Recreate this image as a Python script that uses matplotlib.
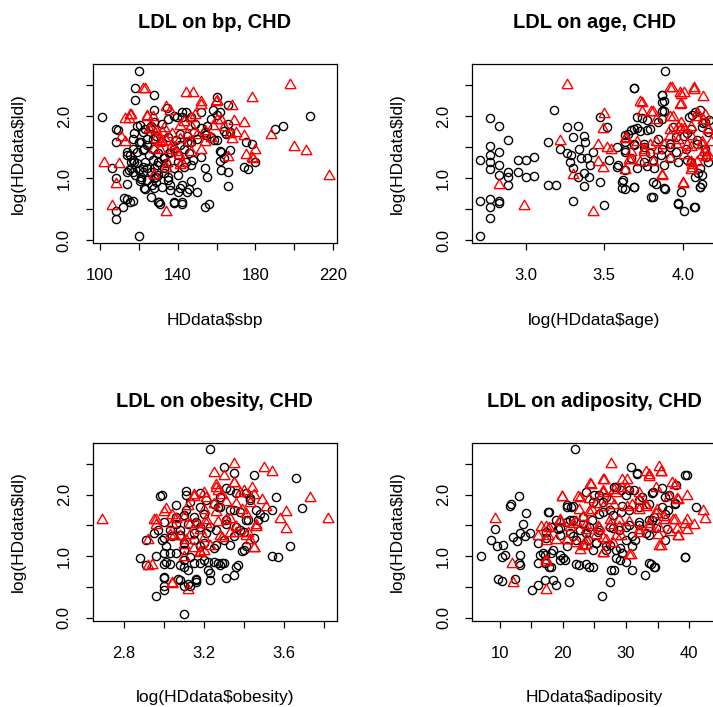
import matplotlib
matplotlib.use("Agg")
import matplotlib.pyplot as plt
from matplotlib.ticker import FixedLocator, FixedFormatter

plt.rcParams['font.family'] = ['Liberation Sans', 'DejaVu Sans']

# (x, log ldl) points, chd = 0 (circles) / chd = 1 (triangles)
bp_no = [(120, 2.73), (101, 1.99), (208, 2.0), (194, 1.85), (190, 1.80), (118, 2.45), (118, 2.27),
         (128, 2.35), (160, 2.32), (166, 2.18), (108, 1.80), (109, 1.78), (108, 1.59), (106, 1.16),
         (108, 1.0), (108, 0.47), (108, 0.35), (112, 0.54), (114, 0.66), (117, 0.63), (120, 0.07),
         (114, 0.91), (126, 0.70), (130, 0.62), (131, 0.59), (138, 0.62), (142, 0.58), (154, 0.54),
         (156, 0.59), (166, 0.88), (166, 1.10), (174, 1.18), (176, 1.15), (162, 1.44), (162, 1.28),
         (167, 1.45), (175, 1.59), (178, 1.56), (180, 1.27), (154, 1.16), (148, 1.29), (152, 1.34),
         (123, 0.83), (128, 0.84), (132, 0.86), (136, 0.81), (136, 0.89), (142, 0.89), (146, 0.83),
         (140, 0.78), (135, 1.02), (129, 1.02), (121, 1.02), (114, 1.10), (117, 1.10), (114, 1.42),
         (114, 1.37), (116, 1.26), (117, 1.29), (116, 1.16), (120, 1.13), (122, 1.10), (126, 1.10),
         (130, 1.05), (133, 1.08), (119, 1.85), (122, 1.75), (123, 1.80), (126, 1.85), (128, 1.91),
         (132, 1.88), (135, 1.96), (138, 2.01), (142, 1.99), (144, 2.07), (147, 1.99), (149, 1.88),
         (152, 2.07), (155, 1.85), (157, 1.96), (158, 2.10), (160, 2.02), (162, 2.07), (165, 1.72),
         (166, 1.88), (117, 1.64), (121, 1.59), (124, 1.53), (127, 1.64), (129, 1.69), (132, 1.59),
         (135, 1.67), (139, 1.61), (141, 1.72), (145, 1.69), (147, 1.59), (150, 1.64), (154, 1.75),
         (157, 1.67), (160, 1.61), (164, 1.77), (167, 1.75), (117, 1.48), (119, 1.42), (122, 1.45),
         (125, 1.37), (127, 1.47), (130, 1.40), (133, 1.34), (136, 1.42), (140, 1.37), (143, 1.48),
         (146, 1.40), (140, 1.26), (144, 1.26), (134, 1.24), (130, 1.26), (127, 1.29), (123, 1.26),
         (119, 1.24), (121, 0.99), (124, 0.97), (129, 0.94), (135, 0.97), (140, 1.05), (122, 1.18),
         (128, 1.16), (133, 1.16), (138, 1.17), (143, 1.18), (147, 1.21)]
bp_no_core = [(127.6, 2.10), (134.5, 2.13), (142.3, 2.07), (139.7, 1.99), (120.7, 1.86), (125.9, 1.81),
              (117.3, 1.73), (119.8, 1.59), (124.2, 1.64), (122.4, 1.48), (115.5, 1.37), (117.3, 1.27),
              (114.7, 1.13), (118.1, 1.05), (120.7, 0.95), (122.4, 0.84), (126.8, 0.89), (127.6, 1.00),
              (124.2, 1.16), (129.4, 1.21), (132.8, 1.32), (135.4, 1.40), (138.0, 1.48), (141.4, 1.54),
              (144.9, 1.59), (148.3, 1.75), (151.8, 1.81), (154.4, 1.70), (158.7, 1.62), (162.2, 1.43),
              (163.9, 1.32), (162.2, 1.13), (155.3, 1.02), (146.6, 0.95), (141.4, 0.84), (144.9, 0.78),
              (138.0, 0.60), (142.3, 0.62), (150.1, 0.78), (130.2, 0.62), (115.5, 0.62), (112.1, 0.68)]
bp_chd = [(198, 2.5), (178, 2.30), (188, 1.70), (200, 1.51), (206, 1.44), (218, 1.04), (102, 1.24),
          (110, 1.23), (108, 0.91), (106, 0.56), (134, 0.46), (122, 2.44), (123, 2.44), (144, 2.37),
          (148, 2.37), (152, 2.23), (160, 2.24), (168, 2.17), (174, 1.90), (169, 1.92), (113, 1.96),
          (116, 2.02), (115, 1.95), (111, 1.67), (113, 1.59), (124, 2.0), (127, 1.99), (134, 2.15),
          (136, 2.08), (129, 1.77), (132, 1.75), (134, 1.60), (125, 1.80), (131, 1.45), (132, 1.59),
          (128, 1.47), (137, 1.53), (128, 1.05), (134, 1.17), (142, 1.24), (139, 1.42), (146, 1.59),
          (147, 1.42), (152, 1.45), (154, 1.59), (154, 1.76), (158, 1.85), (160, 1.94), (164, 1.83),
          (167, 1.72), (170, 1.73), (174, 1.68), (168, 1.64), (175, 1.37), (178, 1.32), (180, 1.45),
          (179, 1.31), (166, 1.34), (143, 1.91), (147, 1.85), (149, 2.02), (145, 1.72), (141, 1.85),
          (129, 1.64), (137, 1.72), (141, 1.64)]
bp_chd_core = [(115.5, 2.02), (124.2, 1.99), (126.8, 1.81), (132.8, 1.81), (131.1, 1.59), (137.1, 1.46),
               (140.6, 1.38), (134.5, 1.24), (127.6, 1.05), (141.4, 1.21), (146.6, 1.97), (151.8, 2.18),
               (159.6, 2.23), (162.2, 1.94), (150.1, 1.70), (157.0, 1.65)]

age_no = [(3.89, 2.73), (2.71, 1.30), (2.77, 1.98), (2.83, 1.84), (2.89, 1.62), (2.71, 0.07), (2.71, 0.63),
          (2.77, 0.53), (2.77, 0.36), (2.83, 0.60), (2.83, 0.63), (2.77, 0.67), (2.77, 1.15), (2.77, 1.26),
          (2.77, 1.37), (2.77, 1.52), (2.83, 1.42), (2.83, 1.21), (2.83, 1.05), (2.89, 1.10), (2.89, 1.02),
          (2.89, 0.89), (2.95, 1.10), (2.95, 1.30), (3.0, 1.30), (3.05, 1.34), (3.0, 1.02), (3.05, 1.04),
          (3.14, 1.59), (3.18, 2.10), (3.14, 0.89), (3.19, 0.89), (3.26, 1.82), (3.33, 1.85), (3.30, 1.67),
          (3.37, 1.68), (3.22, 1.48), (3.26, 1.40), (3.29, 1.37), (3.34, 1.47), (3.38, 1.59), (3.28, 1.26),
          (3.30, 1.16), (3.35, 1.32), (3.39, 1.32), (3.41, 1.21), (3.37, 1.08), (3.33, 1.02), (3.40, 1.02),
          (3.43, 1.42), (3.47, 0.94), (3.30, 0.63), (3.37, 0.87), (3.50, 0.57), (3.53, 1.29), (3.47, 1.99),
          (3.52, 1.83), (3.69, 2.46), (3.87, 2.35), (3.87, 2.23), (3.87, 2.08), (3.87, 1.96), (3.81, 0.70),
          (3.83, 0.91), (3.89, 0.82), (3.97, 0.59), (4.01, 0.47), (4.08, 0.54), (3.99, 0.78), (4.12, 0.91),
          (4.11, 0.86), (4.12, 1.05), (4.11, 1.16), (3.58, 1.18), (3.61, 0.94), (3.63, 0.82), (3.69, 0.86),
          (3.63, 1.45), (3.65, 1.72), (3.69, 1.80), (3.73, 1.77), (3.79, 1.80), (3.84, 1.64), (3.87, 1.48),
          (3.92, 1.56), (3.96, 1.42), (4.01, 1.69), (4.04, 1.99), (4.08, 2.07), (4.14, 1.91), (4.16, 1.75),
          (4.14, 1.48), (4.16, 1.26), (4.09, 1.61), (3.75, 1.26), (3.82, 1.16), (3.88, 1.21), (3.92, 1.32),
          (3.97, 1.26), (4.02, 1.48), (3.75, 1.56), (3.69, 1.53), (3.63, 1.59), (3.71, 1.16), (3.79, 1.40),
          (3.84, 1.91), (3.94, 1.83), (4.05, 1.80), (4.12, 1.83), (4.17, 1.94), (3.67, 1.32), (4.05, 1.26),
          (3.71, 1.99), (3.77, 1.94)]
age_no_core = [(3.69, 2.45), (3.87, 2.34), (3.88, 2.24), (3.88, 2.08), (3.74, 1.97), (3.67, 1.78),
               (3.63, 1.70), (3.71, 1.81), (3.77, 1.78), (3.58, 1.51), (3.63, 1.43), (3.69, 1.56),
               (3.75, 1.51), (3.59, 1.22), (3.63, 1.13), (3.62, 0.97), (3.69, 0.86), (3.61, 0.84),
               (3.77, 1.19), (3.81, 1.30), (3.86, 1.37), (3.92, 1.51), (3.96, 1.67), (4.03, 1.73),
               (4.06, 2.02), (4.11, 2.10), (4.13, 1.89), (4.09, 1.56), (4.15, 1.35), (4.03, 1.30),
               (4.10, 1.08), (4.11, 0.86), (4.08, 1.02), (3.81, 0.94), (3.88, 0.84), (3.80, 0.70),
               (3.97, 0.60), (4.07, 0.54)]
age_chd = [(3.26, 2.5), (3.22, 1.60), (3.30, 1.05), (2.99, 0.56), (2.83, 0.89), (3.43, 0.46), (3.50, 2.03),
           (3.49, 1.80), (3.46, 1.54), (3.52, 1.49), (3.46, 1.26), (3.49, 1.17), (3.63, 1.64), (3.66, 1.29),
           (3.63, 1.13), (3.73, 2.23), (3.74, 2.07), (3.81, 2.07), (3.83, 1.94), (3.87, 1.05), (4.00, 0.91),
           (3.92, 2.45), (3.98, 2.37), (4.01, 2.37), (4.07, 2.45), (4.13, 2.31), (3.99, 2.20), (3.92, 1.99),
           (3.97, 1.83), (4.01, 1.80), (4.05, 1.83), (4.09, 1.99), (4.14, 2.02), (4.16, 1.80), (4.18, 1.59),
           (4.16, 1.37), (4.12, 1.37), (4.05, 1.26), (4.06, 1.16), (4.09, 1.26), (4.14, 1.42), (4.03, 1.53),
           (3.97, 1.61), (3.92, 1.69), (3.88, 1.53), (3.84, 1.45), (3.79, 1.53), (3.75, 1.42), (3.71, 1.59),
           (3.67, 1.42), (3.73, 1.26), (3.81, 1.26), (3.92, 1.32), (4.01, 1.37), (4.12, 1.59), (3.99, 1.80),
           (4.05, 1.69)]
age_chd_core = [(3.93, 2.45), (3.99, 2.34), (4.07, 2.42), (3.74, 2.21), (3.80, 2.07), (3.98, 2.18),
                (3.94, 1.99), (3.99, 1.89), (4.09, 2.05), (4.13, 1.94), (4.16, 1.78), (3.92, 1.78),
                (3.83, 1.59), (3.75, 1.46), (3.67, 1.30), (3.96, 1.56), (4.05, 1.51), (4.12, 1.54),
                (4.15, 1.35), (4.06, 1.21), (4.05, 1.13), (3.87, 1.03), (4.00, 0.92), (3.64, 1.65),
                (3.54, 1.46)]

ob_no = [(3.23, 2.73), (3.66, 2.26), (3.69, 1.78), (3.63, 1.17), (3.54, 1.01), (3.57, 0.99), (3.45, 2.31),
         (3.30, 2.45), (3.35, 2.35), (2.98, 1.98), (2.88, 0.97), (2.91, 0.86), (2.96, 0.36), (3.0, 0.46),
         (3.10, 0.06), (3.0, 0.65), (3.07, 0.63), (3.10, 0.52), (3.12, 0.55), (3.16, 0.59), (3.16, 0.63),
         (3.23, 0.62), (3.35, 0.70), (3.37, 0.86), (3.22, 0.78), (2.97, 1.42), (3.01, 1.16), (3.00, 1.05),
         (3.00, 0.88), (3.03, 0.88), (3.06, 1.05), (3.10, 0.94), (3.10, 0.83), (3.13, 0.99), (3.18, 0.89),
         (3.20, 0.94), (3.25, 0.91), (3.27, 0.89), (3.30, 0.89), (2.91, 1.26), (2.99, 1.26), (3.04, 1.32),
         (3.08, 1.42), (3.12, 1.53), (3.16, 1.56), (3.11, 2.05), (3.06, 1.83), (3.13, 1.88), (3.18, 1.80),
         (3.21, 1.91), (3.25, 1.85), (3.28, 1.96), (3.31, 2.10), (3.36, 2.02), (3.41, 2.02), (3.43, 1.91),
         (3.46, 1.75), (3.50, 1.64), (3.54, 1.75), (3.56, 1.96), (3.47, 1.59), (3.41, 1.59), (3.36, 1.48),
         (3.31, 1.59), (3.26, 1.42), (3.21, 1.37), (3.18, 1.48), (3.15, 1.64), (3.10, 1.67), (3.06, 1.53),
         (3.03, 1.42), (3.30, 1.26), (3.35, 1.32), (3.40, 1.40), (3.41, 1.16), (3.39, 1.08), (3.25, 1.13),
         (3.20, 1.21), (3.15, 1.26), (3.10, 1.21), (3.28, 1.80), (3.33, 1.75), (3.38, 1.72)]
ob_no_core = [(2.99, 1.99), (3.11, 1.99), (3.18, 2.02), (3.33, 2.07), (3.43, 1.94), (3.48, 1.69), (3.42, 1.58),
              (3.35, 1.75), (3.27, 1.80), (3.20, 1.69), (3.11, 1.75), (3.06, 1.64), (3.00, 1.56), (2.95, 1.37),
              (3.00, 1.29), (3.08, 1.34), (3.15, 1.37), (3.23, 1.48), (3.31, 1.53), (3.38, 1.42), (3.45, 1.29),
              (3.40, 1.10), (3.33, 1.18), (3.26, 1.18), (3.18, 1.16), (3.10, 1.10), (3.03, 1.05), (2.96, 1.00),
              (3.01, 0.91), (3.08, 0.86), (3.15, 0.89), (3.22, 0.91), (3.29, 0.89), (3.36, 0.83), (3.00, 0.67),
              (3.08, 0.62), (3.16, 0.62), (3.23, 0.73), (3.31, 0.65), (3.28, 0.86), (3.12, 0.78), (3.00, 0.51),
              (3.13, 0.51)]
ob_chd = [(2.69, 1.59), (3.82, 1.60), (3.73, 1.95), (3.61, 1.72), (3.58, 1.60), (3.61, 1.44), (3.54, 2.37),
          (3.50, 2.43), (3.35, 2.49), (3.25, 2.35), (3.30, 2.30), (2.92, 0.84), (3.04, 0.55), (3.12, 0.45),
          (2.96, 1.59), (2.96, 1.50), (3.01, 1.76), (2.92, 1.26), (3.04, 1.67), (3.10, 1.64), (3.12, 1.82),
          (3.15, 1.96), (3.20, 2.02), (3.26, 2.10), (3.27, 2.05), (3.35, 2.18), (3.40, 2.05), (3.44, 2.10),
          (3.45, 2.00), (3.49, 1.91), (3.51, 1.80), (3.46, 1.51), (3.42, 1.37), (3.41, 1.32), (3.45, 1.13),
          (3.36, 1.48), (3.31, 1.59), (3.26, 1.72), (3.21, 1.59), (3.18, 1.42), (3.13, 1.34), (3.08, 1.32),
          (3.05, 1.32), (3.10, 1.18), (3.15, 1.13), (3.18, 1.05), (3.20, 1.08), (3.23, 1.16), (3.28, 1.32),
          (3.33, 1.37), (3.39, 1.75), (3.36, 1.85), (3.31, 1.88), (3.25, 1.85), (3.20, 1.75), (3.16, 1.53),
          (3.04, 1.53)]
ob_chd_core = [(3.26, 2.15), (3.35, 2.18), (3.15, 1.99), (3.21, 1.94), (3.29, 1.99), (3.38, 2.02), (3.43, 1.86),
               (3.00, 1.72), (2.95, 1.59), (3.06, 1.61), (3.13, 1.53), (3.21, 1.53), (3.27, 1.56), (3.33, 1.61),
               (3.41, 1.69), (3.46, 1.48), (3.03, 1.34), (3.11, 1.26), (3.20, 1.29), (3.29, 1.29), (3.36, 1.37),
               (3.43, 1.26), (3.45, 1.13), (3.18, 1.07), (3.10, 0.99), (3.04, 0.56), (2.94, 0.86)]

adip_no = [(22.0, 2.73), (7.1, 1.01), (30.8, 2.45), (31.8, 2.35), (39.6, 2.31), (37.9, 2.16), (41.1, 1.79),
           (39.4, 0.99), (13.0, 1.98), (11.8, 1.84), (11.6, 1.82), (14.2, 1.70), (17.7, 1.72), (13.7, 1.53),
           (8.6, 1.26), (9.3, 1.44), (9.6, 1.17), (10.6, 1.18), (10.4, 0.99), (10.9, 1.02), (12.2, 1.31),
           (12.7, 1.24), (13.2, 1.37), (14.0, 1.32), (14.8, 1.37), (16.1, 1.21), (17.4, 1.40), (18.2, 1.47),
           (19.3, 1.44), (16.4, 1.02), (17.2, 1.02), (18.1, 1.05), (16.1, 0.89), (17.2, 0.89), (18.2, 0.83),
           (13.2, 1.02), (13.2, 0.86), (13.0, 0.89), (9.8, 0.63), (10.4, 0.60), (12.5, 0.63), (15.1, 0.46),
           (16.1, 0.54), (17.2, 0.62), (18.5, 0.62), (18.9, 0.54), (21.0, 0.58), (26.2, 0.36), (27.5, 0.59),
           (28.1, 0.78), (33.0, 0.70), (34.0, 0.88), (34.6, 0.82), (23.7, 0.88), (24.8, 0.82), (22.1, 0.88),
           (19.5, 1.02), (20.3, 0.94), (20.6, 1.83), (21.3, 1.80), (23.7, 2.04), (25.0, 1.99), (26.3, 1.88),
           (28.1, 2.12), (29.2, 2.07), (30.0, 1.99), (31.3, 2.07), (32.6, 1.96), (34.2, 2.04), (35.7, 2.10),
           (36.8, 1.99), (37.8, 1.85), (36.7, 1.75), (35.7, 1.80), (34.4, 1.64), (33.6, 1.85), (32.1, 1.80),
           (30.5, 1.75), (29.2, 1.72), (27.9, 1.67), (26.3, 1.72), (24.7, 1.59), (23.2, 1.53), (21.6, 1.59),
           (20.6, 1.56), (19.5, 1.45), (21.1, 1.37), (22.7, 1.42), (24.2, 1.48), (25.8, 1.42), (27.4, 1.48),
           (28.9, 1.42), (30.5, 1.51), (32.1, 1.56), (33.6, 1.59), (34.7, 1.45), (36.5, 1.44), (30.0, 1.26),
           (31.0, 1.16), (28.4, 1.10), (26.8, 1.16), (25.3, 1.21), (24.0, 1.26), (22.1, 1.26), (29.4, 1.05),
           (30.0, 0.91), (31.5, 1.26), (33.1, 1.37)]
adip_no_core = [(31.8, 2.34), (39.4, 2.31), (30.5, 2.07), (28.4, 2.12), (26.8, 1.96), (25.8, 1.99), (24.8, 1.88),
                (21.6, 1.82), (20.6, 1.80), (17.9, 1.72), (19.0, 1.59), (21.1, 1.59), (23.2, 1.64), (25.8, 1.69),
                (27.4, 1.75), (29.4, 1.82), (32.0, 1.91), (34.1, 2.02), (36.2, 1.96), (37.8, 1.86), (36.2, 1.69),
                (34.1, 1.59), (32.0, 1.51), (30.0, 1.48), (27.9, 1.45), (25.5, 1.40), (23.7, 1.37), (21.6, 1.32),
                (19.5, 1.34), (17.4, 1.29), (16.9, 1.05), (18.5, 1.10), (20.6, 1.16), (23.2, 1.18), (25.3, 1.21),
                (27.4, 1.18), (29.0, 1.13), (31.0, 1.32), (33.6, 1.34), (36.2, 1.26), (28.4, 0.97), (26.8, 1.10),
                (24.8, 1.10), (22.6, 0.86), (19.5, 0.94), (20.0, 0.97), (17.9, 0.83), (24.2, 0.83), (29.4, 1.05),
                (29.0, 0.94), (33.6, 0.89), (34.4, 0.83), (39.4, 0.99), (27.6, 0.78), (31.0, 0.78)]
adip_chd = [(9.3, 1.60), (11.9, 0.88), (12.2, 0.56), (17.3, 0.45), (17.3, 0.94), (27.6, 2.49), (35.2, 2.45),
            (35.5, 2.37), (33.1, 2.37), (33.6, 2.28), (19.8, 1.96), (22.7, 1.95), (24.3, 2.17), (26.6, 2.24),
            (30.1, 2.23), (26.3, 2.05), (39.6, 1.98), (37.3, 2.18), (38.1, 1.92), (42.2, 1.74), (42.5, 1.60),
            (40.7, 1.51), (39.6, 1.42), (38.1, 1.44), (38.2, 1.32), (39.6, 1.59), (37.4, 1.59), (36.0, 1.63),
            (35.1, 1.34), (35.5, 1.16), (34.9, 1.75), (33.1, 1.80), (32.1, 1.91), (31.0, 1.83), (29.4, 2.10),
            (28.4, 2.02), (27.4, 1.91), (25.3, 1.85), (24.2, 1.72), (23.2, 1.64), (22.1, 1.56), (21.1, 1.48),
            (19.5, 1.59), (17.9, 1.45), (16.6, 1.48), (16.1, 1.32), (17.7, 1.32), (19.0, 1.26), (20.6, 1.26),
            (22.1, 1.21), (23.7, 1.18), (26.3, 1.05), (27.9, 1.21), (29.2, 1.32), (30.8, 1.02), (32.1, 1.37),
            (33.6, 1.53), (28.9, 1.59), (27.4, 1.59), (25.5, 1.48), (23.7, 1.42), (26.8, 1.26), (25.3, 1.34),
            (22.7, 1.10)]
adip_chd_core = [(24.5, 2.15), (26.3, 2.23), (29.4, 2.23), (33.6, 2.31), (35.5, 2.37), (37.8, 2.15),
                 (19.8, 1.96), (22.4, 1.96), (24.2, 1.93), (26.3, 2.02), (28.1, 2.07), (30.2, 2.10),
                 (32.1, 2.02), (34.7, 2.10), (36.8, 1.96), (38.3, 1.91), (22.6, 1.75), (24.7, 1.75),
                 (26.3, 1.80), (28.1, 1.83), (30.2, 1.80), (32.1, 1.75), (33.1, 1.83), (34.7, 1.69),
                 (36.2, 1.59), (37.8, 1.59), (39.4, 1.53), (17.4, 1.48), (19.5, 1.56), (21.6, 1.53),
                 (23.7, 1.51), (25.8, 1.45), (27.4, 1.51), (28.9, 1.48), (30.5, 1.56), (32.1, 1.42),
                 (33.6, 1.48), (35.2, 1.45), (37.0, 1.40), (38.3, 1.32), (20.6, 1.26), (23.7, 1.26),
                 (26.3, 1.29), (28.4, 1.32), (17.4, 1.24), (23.2, 1.16), (26.3, 1.05), (30.5, 1.02),
                 (35.2, 1.16), (17.4, 0.91)]

W, H = 713, 707
fig = plt.figure(figsize=(W / 100, H / 100), dpi=100)

# R's pch=2: equilateral open triangle
tri = [(-1, -0.577), (1, -0.577), (0, 1.155), (-1, -0.577)]


def make_axes(left, top, width, height):
    return fig.add_axes([left / W, 1 - (top + height) / H, width / W, height / H])


panels = [
    (make_axes(92.7, 64.3, 244.3, 179), bp_no + bp_no_core, bp_chd + bp_chd_core,
     "LDL on bp, CHD", "HDdata$sbp",
     (96.2, 222), [100, 120, 140, 160, 180, 200, 220], ["100", "", "140", "", "180", "", "220"]),
    (make_axes(472, 64.3, 245, 179), age_no + age_no_core, age_chd + age_chd_core,
     "LDL on age, CHD", "log(HDdata$age)",
     (2.658, 4.218), [3.0, 3.5, 4.0], ["3.0", "3.5", "4.0"]),
    (make_axes(92.7, 442.7, 244.3, 178.3), ob_no + ob_no_core, ob_chd + ob_chd_core,
     "LDL on obesity, CHD", "log(HDdata$obesity)",
     (2.643, 3.867), [2.8, 3.0, 3.2, 3.4, 3.6, 3.8], ["2.8", "", "3.2", "", "3.6", ""]),
    (make_axes(472, 442.7, 245, 178.3), adip_no + adip_no_core, adip_chd + adip_chd_core,
     "LDL on adiposity, CHD", "HDdata$adiposity",
     (5.64, 44.4), [10, 15, 20, 25, 30, 35, 40], ["10", "", "20", "", "30", "", "40"]),
]

for ax, no, chd, title, xlab, xlim, xt, xtl in panels:
    ax.plot([p[0] for p in no], [p[1] for p in no], linestyle='', marker='o', ms=5.9,
            mfc='none', mec='black', mew=1.0)
    ax.plot([p[0] for p in chd], [p[1] for p in chd], linestyle='', marker=tri, ms=9.0,
            mfc='none', mec='#FF0000', mew=1.0)
    ax.set_xlim(*xlim)
    ax.set_ylim(-0.05, 2.84)
    ax.xaxis.set_major_locator(FixedLocator(xt))
    ax.xaxis.set_major_formatter(FixedFormatter(xtl))
    ax.yaxis.set_major_locator(FixedLocator([0, 0.5, 1.0, 1.5, 2.0, 2.5]))
    ax.yaxis.set_major_formatter(FixedFormatter(["0.0", "", "1.0", "", "2.0", ""]))
    ax.tick_params(direction='out', length=5, width=0.9, labelsize=12, pad=13)
    ax.tick_params(axis='y', pad=10)
    for lab in ax.get_yticklabels():
        lab.set_rotation(90)
        lab.set_va('center')
    for s in ax.spines.values():
        s.set_linewidth(0.9)
    ax.set_title(title, fontsize=14.4, fontweight='bold', pad=26)
    ax.set_xlabel(xlab, fontsize=12.5)
    ax.set_ylabel("log(HDdata$ldl)", fontsize=12.5)
    ax.xaxis.set_label_coords(0.5, -0.43)
    ax.xaxis.label.set_va('center')
    ax.yaxis.set_label_coords(-0.306, 0.5)
    ax.yaxis.label.set_va('center')

fig.savefig("out.png", dpi=100)
